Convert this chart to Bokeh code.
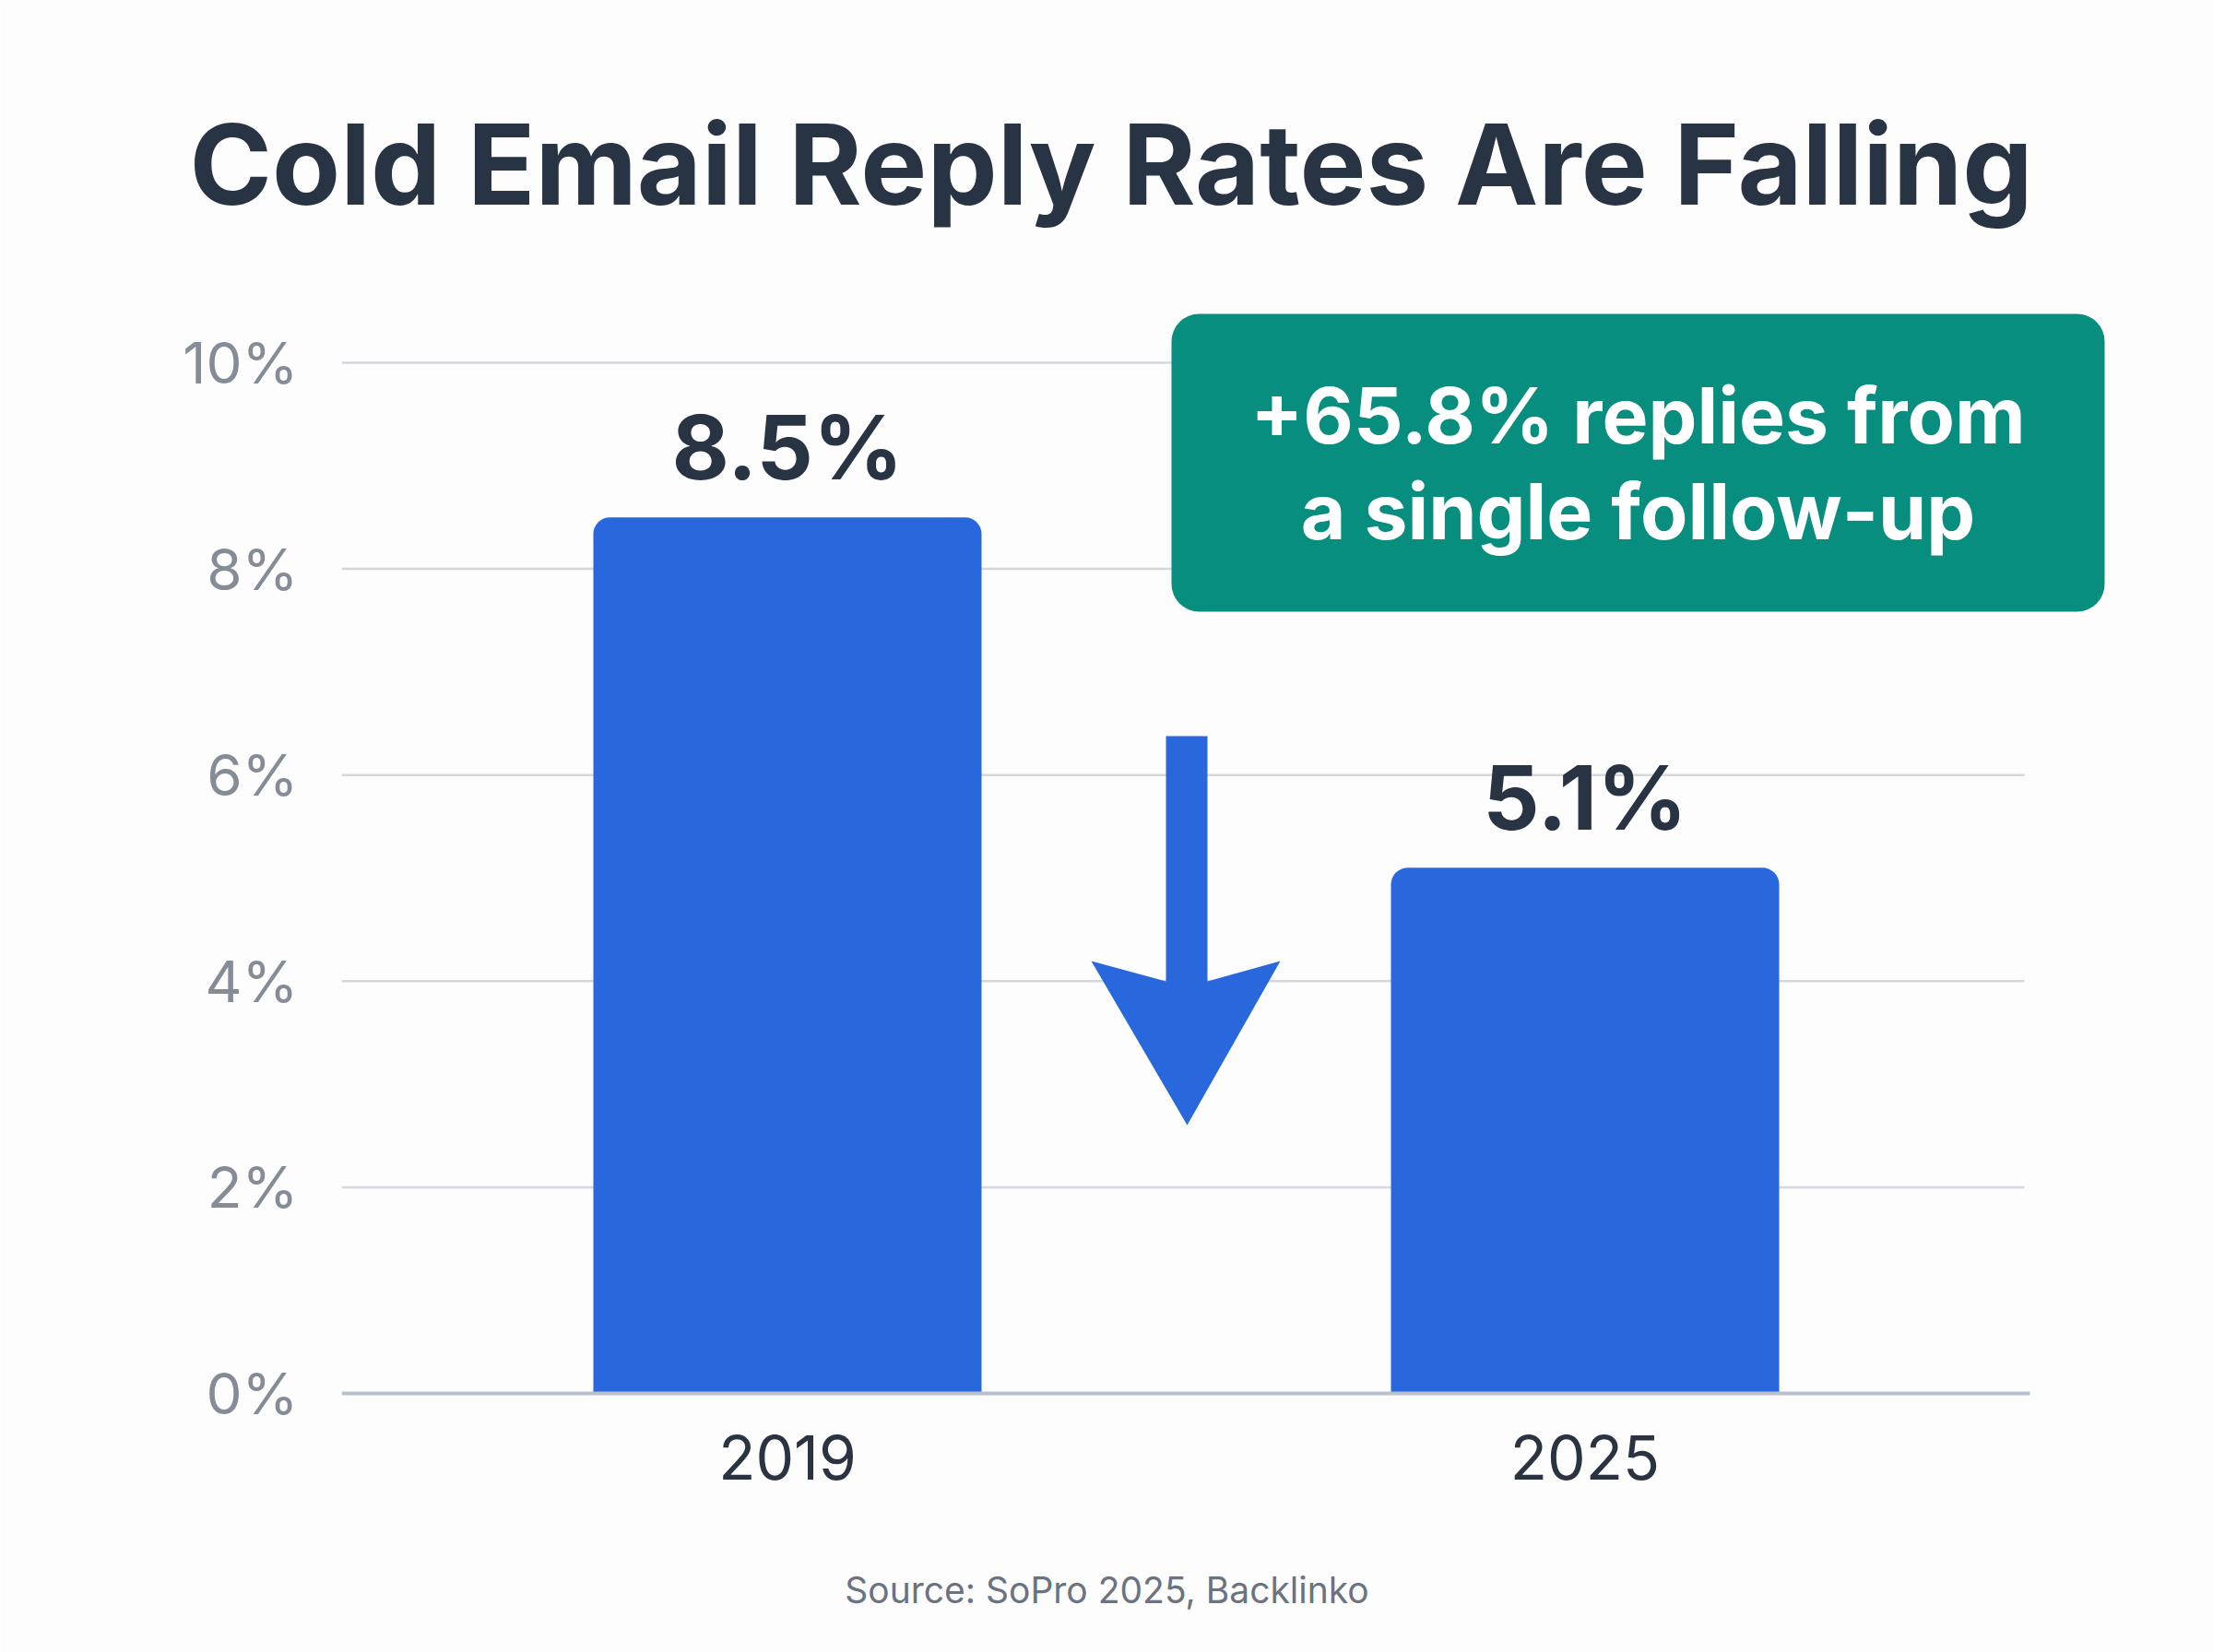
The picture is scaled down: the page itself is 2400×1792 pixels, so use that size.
from bokeh.plotting import figure
from bokeh.models import Range1d, FixedTicker, Title
from bokeh.core.properties import value
from bokeh.embed import file_html
from bokeh.resources import INLINE

# ---- data ----
categories = ["2019", "2025"]
rates = [8.5, 5.1]
bar_labels = ["8.5%", "5.1%"]
y_ticks = [0, 2, 4, 6, 8, 10]
y_tick_labels = ["0%", "2%", "4%", "6%", "8%", "10%"]
title_text = "Cold Email Reply Rates Are Falling"
note_lines = ["+65.8% replies from", "a single follow-up"]
source_text = "Source: SoPro 2025, Backlinko"

# ---- layout (pixels) ----
W, H = 2400, 1792
FL, FR, FT, FB = 370, 2300, 251, 1792
Y0_PX = 1511.0
X0_PX = 853.5
PX_PER_X = 865.0
PX_PER_Y = 111.8
TEXT_SHIFT = 0.4  # empirical baseline correction (fraction of font size)


def dx(px):
    return (px - X0_PX) / PX_PER_X


def dy(py):
    return (Y0_PX - py) / PX_PER_Y


def base(py, fs):
    return dy(py - TEXT_SHIFT * fs)


DARK = "#283444"
BLUE = "#2868DC"
TEAL = "#078E7F"
FONT = value("Inter")

idx = list(range(len(categories)))

p = figure(width=W, height=H,
           x_range=Range1d(dx(FL), dx(FR)), y_range=Range1d(dy(FB), dy(FT)),
           output_backend="svg", toolbar_location=None,
           min_border_left=FL, min_border_right=W - FR,
           min_border_top=FT, min_border_bottom=0)
p.outline_line_color = None
p.grid.visible = False
p.background_fill_color = "#fdfdfd"
p.border_fill_color = "#fdfdfd"

# title (centred on the canvas)
TITLE_FS = 121
TITLE_W = 1990
p.title = Title(text=title_text, align="left", offset=(W - TITLE_W) / 2 - FL,
                text_font="Inter", text_font_style="bold",
                text_font_size=f"{TITLE_FS}px", text_color=DARK,
                vertical_align="middle", standoff=0)

# gridlines
grid_y = [t for t in y_ticks if t != 0]
p.segment(x0=[dx(FL)] * len(grid_y), x1=[dx(2195)] * len(grid_y),
          y0=grid_y, y1=grid_y, line_color="#d3d7de", line_width=2.5)

# bars
p.vbar(x=idx, top=rates, bottom=0, width=421 / PX_PER_X, fill_color=BLUE,
       line_color=None, border_radius=(18, 18, 0, 0))

# baseline
p.segment(x0=[dx(FL)], x1=[dx(2201)], y0=[0], y1=[0], line_color="#b9c0cc", line_width=4)

# bar value labels
p.text(x=idx, y=[r + (38 + TEXT_SHIFT * 96) / PX_PER_Y for r in rates], text=bar_labels,
       text_font=FONT, text_font_style="bold", text_font_size="96px",
       text_color=DARK, text_align="center", text_baseline="alphabetic")

# category labels
p.text(x=idx, y=[base(1607, 66)] * len(idx), text=categories,
       text_font=FONT, text_font_size="66px", text_color="#2b3342",
       text_align="center", text_baseline="alphabetic")

# source
p.text(x=[dx(W / 2)], y=[base(1740, 39)], text=[source_text],
       text_font=FONT, text_font_size="39px", text_color="#6b7280",
       text_align="center", text_baseline="alphabetic")

# down arrow between bars
ax = [1264, 1309, 1309, 1388, 1287, 1183, 1264]
ay = [798, 798, 1064, 1042, 1220, 1042, 1064]
p.patch(x=[dx(v) for v in ax], y=[dy(v) for v in ay], fill_color=BLUE, line_color=None)

# annotation box
p.quad(left=[dx(1270)], right=[dx(2282)], top=[dy(340)], bottom=[dy(663)],
       fill_color=TEAL, line_color=None, border_radius=30)
cx = dx((1270 + 2282) / 2)
p.text(x=[cx, cx], y=[base(484, 84), base(588, 84)], text=note_lines,
       text_font=FONT, text_font_style="bold", text_font_size="84px",
       text_color="white", text_align="center", text_baseline="alphabetic")

# axes
p.yaxis.ticker = FixedTicker(ticks=y_ticks)
p.yaxis.major_label_overrides = {t: l for t, l in zip(y_ticks, y_tick_labels)}
p.yaxis.axis_line_color = None
p.yaxis.major_tick_line_color = None
p.yaxis.minor_tick_line_color = None
p.yaxis.major_tick_out = 0
p.yaxis.major_tick_in = 0
p.yaxis.major_label_standoff = 47
p.yaxis.major_label_text_font = "Inter"
p.yaxis.major_label_text_font_size = "62px"
p.yaxis.major_label_text_color = "#868c96"

p.xaxis.visible = False

open("out.html", "w").write(file_html(p, INLINE))
